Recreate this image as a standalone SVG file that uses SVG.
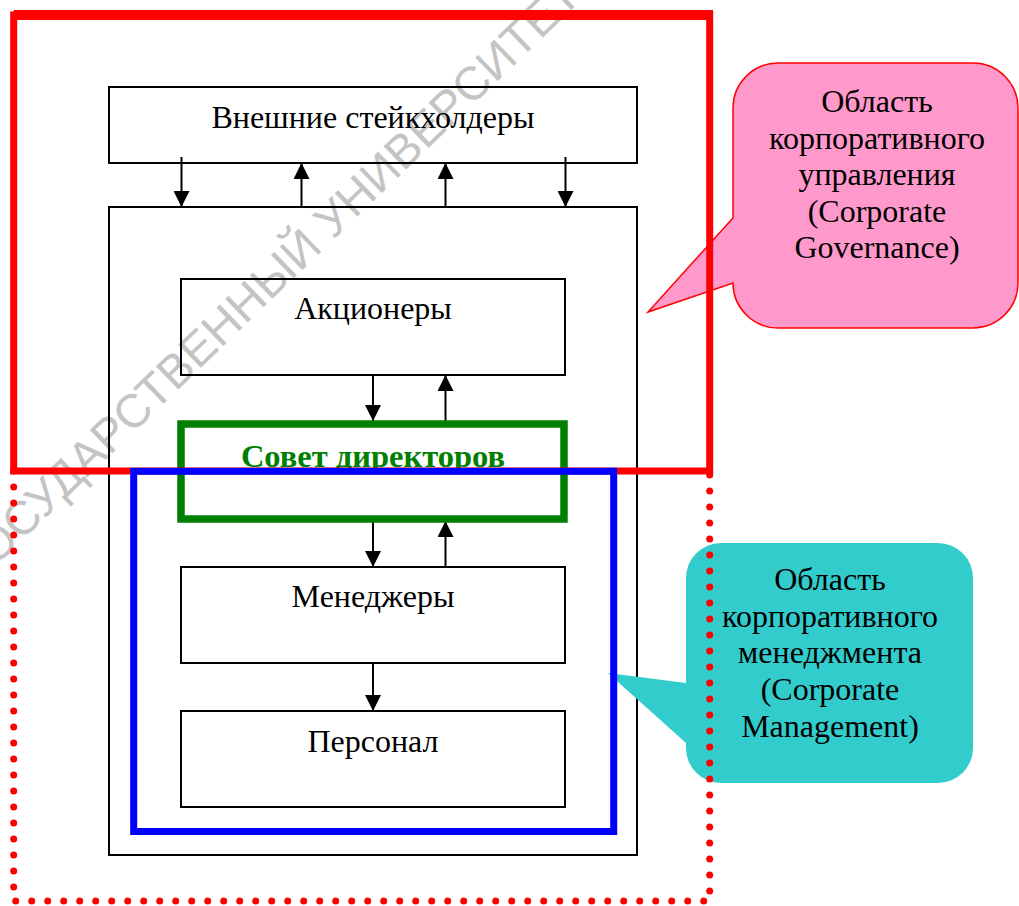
<svg xmlns="http://www.w3.org/2000/svg" width="1019" height="906" viewBox="0 0 1019 906">
  <defs>
    <marker id="ah" viewBox="0 0 16 16" markerWidth="16" markerHeight="16" refX="16" refY="8" orient="auto" markerUnits="userSpaceOnUse">
      <path d="M0,0 L16,8 L0,16 Z" fill="#000"/>
    </marker>
  </defs>
  <style>
    .box { fill: none; stroke: #000; stroke-width: 2; }
    .lbl { font-family: "Liberation Serif", "Times New Roman", serif; font-size: 32px; fill: #000; text-anchor: middle; }
    .bold { font-weight: bold; font-size: 32.5px; fill: #008000; }
    .conn line { stroke: #000; stroke-width: 2; marker-end: url(#ah); }
    .wm { font-family: "Liberation Sans", Arial, sans-serif; font-size: 47px; fill: #c4c4c4; }
  </style>
  <rect x="0" y="0" width="1019" height="906" fill="#fff"/>

  <text class="wm" x="-22" y="583" transform="rotate(-44 -22 583)">ГОСУДАРСТВЕННЫЙ УНИВЕРСИТЕТ</text>

  <g id="external">
    <rect class="box" x="109" y="87" width="528" height="76"/>
    <text class="lbl" x="373" y="128">Внешние стейкхолдеры</text>
  </g>
  <g id="company">
    <rect class="box" x="109" y="207" width="528" height="648"/>
  </g>
  <g id="shareholders">
    <rect class="box" x="181" y="279" width="384" height="96"/>
    <text class="lbl" x="373" y="319">Акционеры</text>
  </g>
  <g id="managers">
    <rect class="box" x="181" y="567" width="384" height="96"/>
    <text class="lbl" x="373" y="607">Менеджеры</text>
  </g>
  <g id="personnel">
    <rect class="box" x="181" y="711" width="384" height="96"/>
    <text class="lbl" x="373" y="752">Персонал</text>
  </g>

  <g id="connectors" class="conn">
    <line x1="181.5" y1="157" x2="181.5" y2="207"/>
    <line x1="565.5" y1="157" x2="565.5" y2="207"/>
    <line x1="301.5" y1="207" x2="301.5" y2="163"/>
    <line x1="445.5" y1="207" x2="445.5" y2="163"/>
    <line x1="373" y1="375" x2="373" y2="421"/>
    <line x1="445.5" y1="424" x2="445.5" y2="375"/>
    <line x1="373" y1="519" x2="373" y2="567"/>
    <line x1="445.5" y1="567" x2="445.5" y2="521"/>
    <line x1="373" y1="663" x2="373" y2="711"/>
  </g>

  <g id="governance-callout">
    <path d="M778,63 H973 A45,45 0 0 1 1018,108 V283 A45,45 0 0 1 973,328 H778 A45,45 0 0 1 733,283 L648,312 L733,218 V108 A45,45 0 0 1 778,63 Z" fill="#FF99CC" stroke="#FF0000" stroke-width="1.5"/>
    <text class="lbl" x="877" y="112">Область</text>
    <text class="lbl" x="877" y="149">корпоративного</text>
    <text class="lbl" x="877" y="185">управления</text>
    <text class="lbl" x="877" y="222">(Corporate</text>
    <text class="lbl" x="877" y="258">Governance)</text>
  </g>

  <g id="management-callout">
    <path d="M721,543 H938 A35,35 0 0 1 973,578 V748 A35,35 0 0 1 938,783 H721 A35,35 0 0 1 686,748 V743 L608,673 L686,683 V578 A35,35 0 0 1 721,543 Z" fill="#33CCCC"/>
    <text class="lbl" x="830" y="590">Область</text>
    <text class="lbl" x="830" y="627">корпоративного</text>
    <text class="lbl" x="830" y="663">менеджмента</text>
    <text class="lbl" x="830" y="700">(Corporate</text>
    <text class="lbl" x="830" y="737">Management)</text>
  </g>

  <g id="board">
    <rect x="181" y="424" width="383" height="95" fill="none" stroke="#008000" stroke-width="7.5"/>
    <text class="lbl bold" x="373" y="467">Совет директоров</text>
  </g>

  <g id="governance-area">
    <rect x="13.7" y="15" width="696" height="456" fill="none" stroke="#FF0000" stroke-width="7"/>
    <line x1="13.7" y1="15" x2="713" y2="15" stroke="#FF0000" stroke-width="10"/>
  </g>
  <g id="outer-dotted">
    <path d="M13.7,471 V901 H709.7 V471" fill="none" stroke="#FF0000" stroke-width="7" stroke-linecap="round" stroke-dasharray="0 16"/>
  </g>
  <g id="management-area">
    <rect x="133.7" y="471.3" width="480" height="360.2" fill="none" stroke="#0000FF" stroke-width="7"/>
  </g>
</svg>
